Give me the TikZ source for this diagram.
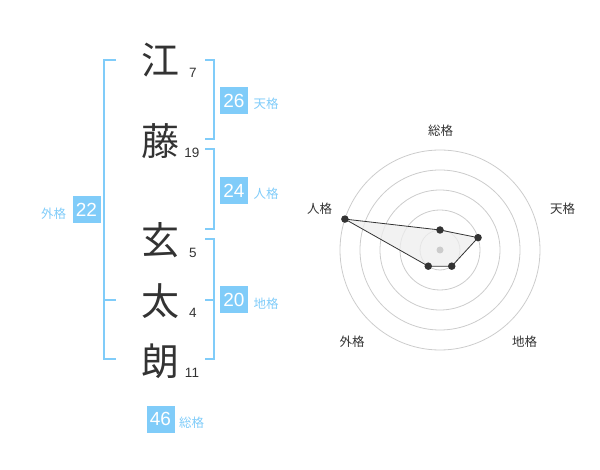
\documentclass[tikz,border=0pt]{standalone}
\usepackage{fontspec}
\setmainfont{Liberation Sans}
\newfontfamily\jp{Noto Sans CJK JP}
\definecolor{kblue}{HTML}{80CCF9}
\definecolor{ink}{HTML}{333333}
\definecolor{ring}{HTML}{CCCCCC}
\definecolor{area}{HTML}{EEEEEE}
\begin{document}
\begin{tikzpicture}[x=1pt,y=-1pt,
  kanji/.style={inner sep=0pt, text=ink, font=\jp\fontsize{38}{38}\selectfont},
  strokes/.style={inner sep=0pt, text=ink, font=\fontsize{13.5}{14}\selectfont},
  scorebox/.style={fill=kblue, text=white, minimum width=28pt, minimum height=27pt, inner sep=0pt, font=\fontsize{19}{19}\selectfont},
  scorelabel/.style={inner sep=0pt, text=kblue, font=\jp\fontsize{12.5}{13}\selectfont},
  bracket/.style={draw=kblue, line width=2pt},
  ringline/.style={draw=ring, line width=0.8pt},
  axislabel/.style={inner sep=0pt, text=ink, font=\jp\fontsize{12.5}{13}\selectfont},
  dot/.style={circle, fill=ink, inner sep=0pt, minimum size=7.5pt}
]
\useasboundingbox (0,0) rectangle (600,470);

% kanji and stroke counts
\node[kanji] (k1) at (160,60) {江};
\node[kanji] (k2) at (160,141) {藤};
\node[kanji] (k3) at (160,240) {玄};
\node[kanji] (k4) at (160,301) {太};
\node[kanji] (k5) at (160,361) {朗};
\node[strokes] (n1) at (193,73) {7};
\node[strokes] (n2) at (192,152.5) {19};
\node[strokes] (n3) at (193,252.5) {5};
\node[strokes] (n4) at (193,313) {4};
\node[strokes] (n5) at (192,373) {11};

% brackets
\coordinate (L1) at (116,60); \coordinate (L2) at (104,60);
\coordinate (L3) at (104,359); \coordinate (L4) at (116,359);
\coordinate (Lm) at (104,300); \coordinate (Lt) at (116,300);
\draw[bracket] (L1) -- (L2) -- (L3) -- (L4);
\draw[bracket] (Lm) -- (Lt);

\coordinate (a1) at (205,60); \coordinate (a2) at (214,60);
\coordinate (a3) at (214,139.3); \coordinate (a4) at (205,139.3);
\draw[bracket] (a1) -- (a2) -- (a3) -- (a4);
\coordinate (b1) at (205,149.3); \coordinate (b2) at (214,149.3);
\coordinate (b3) at (214,229.3); \coordinate (b4) at (205,229.3);
\draw[bracket] (b1) -- (b2) -- (b3) -- (b4);
\coordinate (c1) at (205,239.3); \coordinate (c2) at (214,239.3);
\coordinate (c3) at (214,359.3); \coordinate (c4) at (205,359.3);
\coordinate (cm) at (214,300); \coordinate (ct) at (205,300);
\draw[bracket] (c1) -- (c2) -- (c3) -- (c4);
\draw[bracket] (cm) -- (ct);

% score boxes and labels
\node[scorebox] (s1) at (234,100.5) {26};
\node[scorebox] (s2) at (234,190.5) {24};
\node[scorebox] (s3) at (234,300) {20};
\node[scorebox] (s4) at (86.5,210) {22};
\node[scorebox] (s5) at (160.5,419) {46};
\node[scorelabel] (t1) at (266,104) {天格};
\node[scorelabel] (t2) at (266,194) {人格};
\node[scorelabel] (t3) at (266,304) {地格};
\node[scorelabel] (t4) at (53.5,214) {外格};
\node[scorelabel] (t5) at (191.5,423) {総格};

% radar chart
\begin{scope}[shift={(440,250)}, yscale=-1]
  \foreach \r in {20,40,60,80,100} {\draw[ringline] (0,0) circle[radius=\r];}
  \coordinate (p1) at (90:20);
  \coordinate (p2) at (18:40);
  \coordinate (p3) at (-54:20);
  \coordinate (p4) at (234:20);
  \coordinate (p5) at (162:100);
  \fill[area, fill opacity=0.75] (p1) -- (p2) -- (p3) -- (p4) -- (p5) -- cycle;
  \node[circle, fill=ring, inner sep=0pt, minimum size=7pt] (ctr) at (0,0) {};
  \draw[ink, line width=0.8pt] (p1) -- (p2) -- (p3) -- (p4) -- (p5) -- cycle;
  \foreach \p in {p1,p2,p3,p4,p5} {\node[dot] at (\p) {};}
\end{scope}
\node[axislabel] (r1) at (440.5,131) {総格};
\node[axislabel] (r2) at (562.5,208.5) {天格};
\node[axislabel] (r3) at (319.5,208.5) {人格};
\node[axislabel] (r4) at (352,342) {外格};
\node[axislabel] (r5) at (524.5,342) {地格};
\end{tikzpicture}
\end{document}
